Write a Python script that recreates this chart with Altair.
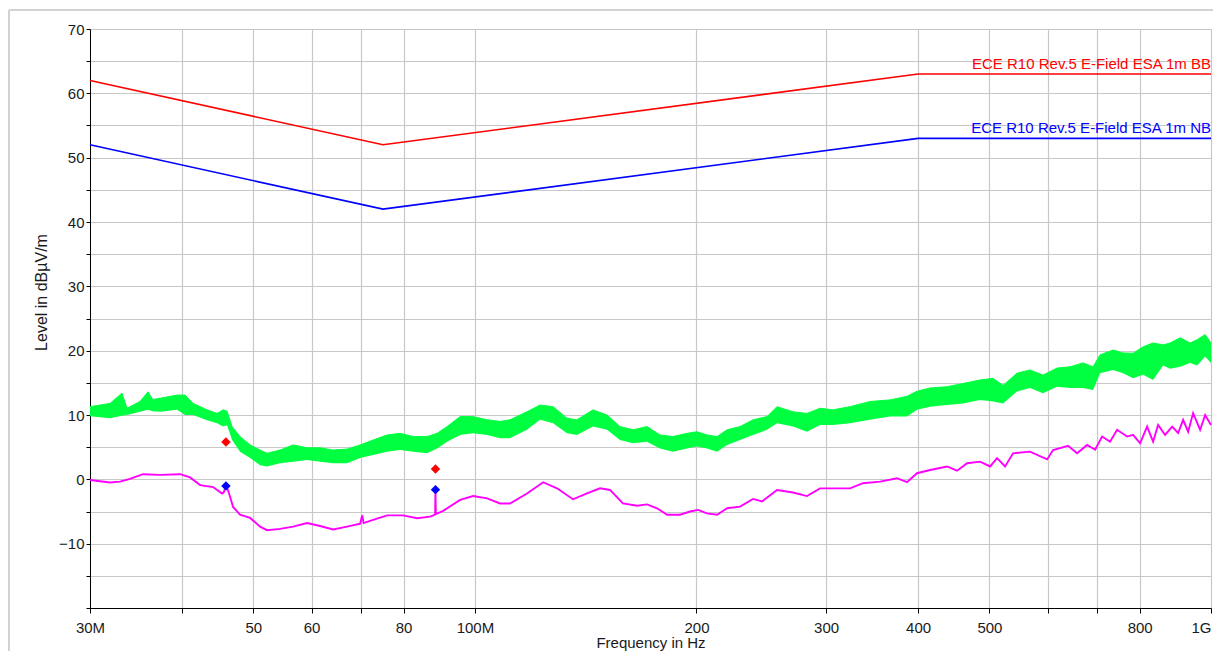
import altair as alt
import pandas as pd

# ---------------- data (frequencies in MHz, levels in dBuV/m) ----------------
lim_f = [30, 75, 400, 1000]
bb_v = [62, 52, 63, 63]
nb_v = [52, 42, 53, 53]

mag_f = [30, 31.94, 32.95, 34.0, 35.41, 37.35, 39.76, 41.03, 42.33, 44.09, 45.35, 45.6, 45.85, 46.1,
         46.21, 46.94, 47.97, 49.5, 51.07, 52.2, 54.37, 56.63, 59.16, 61.62, 64.18, 67.05, 69.83,
         70.3, 70.6, 72.73, 75.99, 79.89, 83.47, 86.93, 88.3, 88.4, 88.5, 90.54, 95.48, 99.44,
         103.9, 108.2, 111.6, 117.7, 123.8, 129.3, 135.9, 142.0, 147.9, 152.6, 158.9, 166.1,
         171.3, 176.8, 182.4, 190.0, 196.0, 201.0, 206.7, 213.3, 220.1, 229.2, 238.7, 245.5,
         257.3, 270.5, 282.6, 294.3, 313.3, 323.3, 336.7, 355.1, 374.5, 386.4, 398.7, 415.3,
         438.0, 451.9, 466.3, 485.6, 501.1, 512.1, 525.1, 538.4, 567.7, 598.9, 610.2, 639.5,
         657.8, 678.7, 695.9, 711.3, 729.3, 745.4, 769.1, 783.7, 801.1, 818.8, 834.3, 847.5,
         866.3, 885.5, 902.3, 916.5, 931, 945.6, 966.6, 981.8, 1000]
mag_v = [-0.1, -0.5, -0.35, 0.06, 0.8, 0.7, 0.8, 0.3, -0.9, -1.2, -2.2, -2.0, -1.1, -1.5,
         -1.7, -4.3, -5.5, -6.0, -7.35, -7.9, -7.7, -7.35, -6.8, -7.25, -7.8, -7.35, -6.9,
         -5.6, -6.8, -6.3, -5.6, -5.6, -6.05, -5.8, -5.5, -1.6, -5.4, -4.9, -3.2, -2.6,
         -2.95, -3.75, -3.75, -2.2, -0.45, -1.4, -3.1, -2.2, -1.4, -1.65, -3.75, -4.1,
         -3.9, -4.5, -5.5, -5.5, -5.0, -4.75, -5.3, -5.5, -4.5, -4.25, -3.05, -3.45,
         -1.65, -2.05, -2.6, -1.4, -1.4, -1.4, -0.6, -0.35, 0.17, -0.45, 0.95, 1.45,
         2.0, 1.35, 2.5, 2.75, 2.0, 3.3, 2.0, 4.05, 4.3, 3.1, 4.55, 5.2,
         4.05, 5.35, 4.6, 6.65, 5.85, 7.7, 6.65, 6.9, 5.6, 8.2, 5.85, 8.45,
         6.9, 8.2, 7.2, 9.25, 7.4, 10.3, 7.7, 10.0, 8.45]

grn_f = [30, 31.94, 33.16, 33.68, 35.08, 35.97, 36.5, 37.35, 39.39, 40.39, 41.42, 43.27, 44.64,
         45.49, 46.06, 46.79, 47.97, 49.5, 51.07, 52.2, 54.37, 56.63, 59.16, 61.62, 64.18, 67.05,
         69.83, 72.73, 75.99, 79.14, 82.43, 86.12, 88.86, 91.68, 95.48, 99.44, 103.9, 108.2,
         111.6, 117.7, 122.6, 127.7, 133.4, 137.6, 144.7, 151.2, 157.4, 164.0, 171.3, 178.4,
         185.8, 194.2, 200.3, 206.7, 213.3, 220.1, 229.2, 238.7, 249.4, 257.3, 270.5, 282.6,
         294.3, 306.5, 323.3, 344.2, 366.4, 386.4, 398.7, 415.3, 438.0, 460.5, 485.6, 505.8,
         521.8, 545.1, 567.7, 591.3, 617.9, 643.5, 670.2, 691.5, 706.8, 736.2, 759.6, 783.7,
         808.6, 834.3, 860.9, 880, 908, 936.8, 957.5, 981.8, 1000]
grn_hi = [11.3, 11.8, 13.4, 11.05, 12.1, 13.6, 12.4, 12.6, 13.1, 13.1, 11.8, 10.8, 10.25,
          10.8, 10.6, 8.2, 6.65, 5.35, 4.55, 4.05, 4.55, 5.35, 4.9, 4.9, 4.55, 4.7,
          5.35, 6.1, 6.9, 7.15, 6.65, 6.65, 7.15, 8.2, 9.75, 9.75, 9.25, 9.0,
          9.25, 10.5, 11.55, 11.3, 9.5, 9.25, 10.8, 10.0, 8.2, 7.7, 8.2, 6.9,
          6.65, 7.15, 7.4, 6.9, 6.65, 7.7, 8.2, 9.25, 9.75, 11.3, 10.5, 10.25,
          11.05, 10.8, 11.3, 12.1, 12.35, 12.9, 13.7, 14.2, 14.4, 14.9, 15.45, 15.7,
          14.6, 16.5, 17.0, 16.2, 17.3, 17.5, 18.1, 17.5, 19.35, 20.1, 19.65, 19.6,
          20.6, 21.2, 20.9, 21.2, 22.0, 21.2, 21.7, 22.5, 21.2]
grn_lo = [9.8, 9.5, 9.9, 10.0, 10.5, 10.8, 10.6, 10.5, 10.8, 10.0, 10.0, 9.2, 8.7,
          8.2, 8.4, 6.1, 4.3, 3.3, 2.2, 2.0, 2.5, 2.75, 3.0, 2.75, 2.5, 2.5,
          3.3, 3.8, 4.3, 4.55, 4.3, 4.05, 4.8, 5.85, 6.9, 7.15, 6.9, 6.4,
          6.4, 7.7, 9.25, 8.7, 7.15, 6.9, 8.2, 7.7, 6.1, 5.6, 5.85, 4.8,
          4.3, 4.8, 5.1, 4.8, 4.3, 5.35, 6.1, 6.9, 7.7, 8.7, 8.2, 7.4,
          8.45, 8.45, 8.7, 9.25, 9.75, 9.75, 10.8, 11.3, 11.55, 11.8, 12.35, 12.1,
          11.8, 13.65, 14.2, 13.4, 14.4, 14.2, 14.2, 13.9, 16.5, 17.0, 16.5, 15.7,
          16.25, 15.45, 17.7, 17.2, 17.5, 18.1, 17.7, 19.1, 18.1]

mk_f = [45.9, 88.4, 45.9, 88.4]
mk_v = [5.8, 1.6, -1.05, -1.6]
mk_s = ["BB", "BB", "NB", "NB"]

lim_names = ["ECE R10 Rev.5 E-Field ESA 1m BB", "ECE R10 Rev.5 E-Field ESA 1m NB"]

x_ticks = [30, 40, 50, 60, 70, 80, 100, 200, 300, 400, 500, 600, 700, 800, 1000]
x_labels = ["30M", "", "50", "60", "", "80", "100M", "200", "300", "400", "500", "", "", "800", "1G"]
y_ticks = list(range(-20, 71, 5))

# ---------------- tables ----------------
lim_df = pd.DataFrame({"f": lim_f * 2, "v": bb_v + nb_v,
                       "s": ["BB"] * len(lim_f) + ["NB"] * len(lim_f)})
mag_df = pd.DataFrame({"f": mag_f, "v": mag_v})
grn_df = pd.DataFrame({"f": grn_f, "v": grn_hi, "v2": grn_lo})
mk_df = pd.DataFrame({"f": mk_f, "v": mk_v, "s": mk_s})
txt_df = pd.DataFrame({"f": [1000, 1000], "v": [bb_v[-1], nb_v[-1]], "s": ["BB", "NB"],
                       "t": lim_names})

FONT = "Liberation Sans"
GRID = "#c8c8c8"

expr = "''"
for t, l in reversed(list(zip(x_ticks, x_labels))):
    expr = f"datum.value=={t}?'{l}':({expr})"

x_axis = alt.Axis(values=x_ticks, labelExpr=expr, grid=True, gridColor=GRID, gridWidth=1.2,
                  domainColor="black", tickColor="black", tickSize=5, labelFontSize=15,
                  labelFont=FONT, labelColor="#1a1a1a", labelPadding=7, labelFlush=False,
                  labelAlign={"condition": {"test": "datum.value >= 1000", "value": "right"},
                              "value": "center"},
                  labelOverlap=False, title="Frequency in Hz", titleFont=FONT,
                  titleFontSize=15, titleFontWeight="normal", titleColor="#1a1a1a",
                  titleBaseline="alphabetic", titleY=39)
y_axis = alt.Axis(values=y_ticks, labelExpr="datum.value % 10 == 0 && datum.value > -20 ? datum.label : ''",
                  grid=True, gridColor=GRID, gridWidth=1.2, domainColor="black",
                  tickColor="black", tickSize=4, labelFontSize=15, labelFont=FONT,
                  labelColor="#1a1a1a", labelPadding=2, labelOverlap=False,
                  title="Level in dBµV/m", titleFont=FONT, titleFontSize=16,
                  titleFontWeight="normal", titleColor="#1a1a1a", titleX=-49, titleY=263,
                  titleBaseline="middle", titleAlign="center")

X = alt.X("f:Q", scale=alt.Scale(type="log", domain=[30, 1000], nice=False), axis=x_axis)
Y = alt.Y("v:Q", scale=alt.Scale(domain=[-20, 70], nice=False, zero=False), axis=y_axis)
col = alt.Color("s:N", scale=alt.Scale(domain=["BB", "NB"], range=["#ff0000", "#0000ff"]),
                legend=None)

limits = alt.Chart(lim_df).mark_line(strokeWidth=1.6).encode(x=X, y=Y, color=col, detail="s:N")
green = alt.Chart(grn_df).mark_area(color="#00ff40", opacity=1,
                                    line={"color": "#00ff40", "strokeWidth": 1}).encode(
    x=X, y=Y, y2="v2:Q")
mag = alt.Chart(mag_df).mark_line(color="#ff00ff", strokeWidth=1.9).encode(x=X, y=Y)
markers = alt.Chart(mk_df).mark_point(shape="diamond", filled=True, size=90, opacity=1).encode(
    x=X, y=Y, color=col)
labels = alt.Chart(txt_df).mark_text(align="right", baseline="alphabetic", dy=-5, font=FONT,
                                     fontSize=15).encode(x=X, y=Y, text="t:N", color=col)

frame_top = alt.Chart(lim_df).mark_rule(color="#d2d2d2", strokeWidth=2).encode(
    x=alt.value(-81), x2=alt.value(1125), y=alt.value(-19))
frame_left = alt.Chart(lim_df).mark_rule(color="#d2d2d2", strokeWidth=2).encode(
    x=alt.value(-81), y=alt.value(-19), y2=alt.value(625))

chart = alt.layer(frame_top, frame_left, limits, green, mag, markers, labels).properties(
    width=1121, height=579,
    autosize=alt.AutoSizeParams(type="none"),
    padding={"left": 82, "top": 21, "right": 2, "bottom": 43},
    background="white",
).configure_view(strokeWidth=0)

chart.save("out.html", embed_options={"renderer": "svg", "actions": False})
